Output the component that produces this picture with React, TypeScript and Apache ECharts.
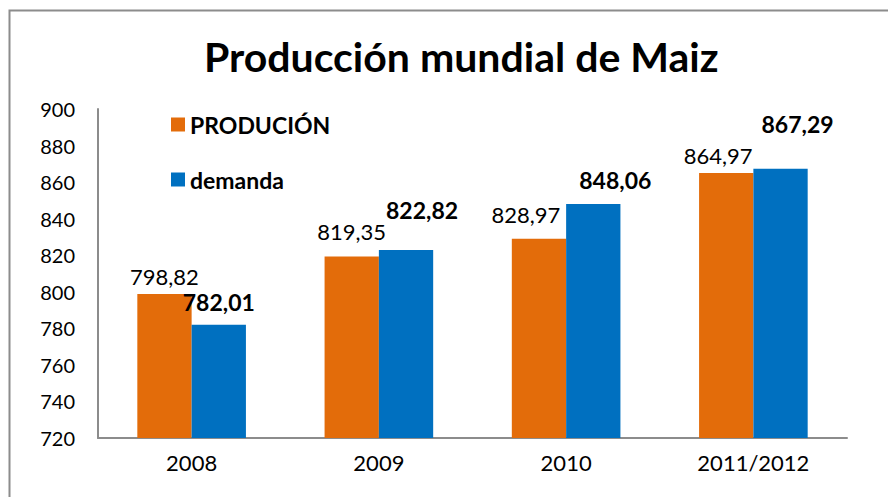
import React, { useEffect, useRef } from "react";
import * as echarts from "echarts";

const categories = ["2008", "2009", "2010", "2011/2012"];
const produccion = [798.82, 819.35, 828.97, 864.97];
const demanda = [782.01, 822.82, 848.06, 867.29];
const seriesNames = ["PRODUCIÓN", "demanda"];
const titleText = "Producción mundial de Maiz";
const yMin = 720;
const yMax = 900;
const yStep = 20;

const FONT = "Lato, 'Open Sans', sans-serif";
const fmt = (v: number) => v.toFixed(2).replace(".", ",");

const orangeOffsets = [[0, -1], [0, -9], [-13, -8], [-8, -2]];
const blueOffsets = [[0, -6], [16, -24], [22, -7], [17, -28]];

export default function App() {
  const ref = useRef<HTMLDivElement>(null);
  useEffect(() => {
    if (!ref.current) return;
    const chart = echarts.init(ref.current, undefined, { renderer: "svg" });
    chart.setOption({
      animation: false,
      backgroundColor: "#ffffff",
      title: {
        text: titleText,
        left: 199,
        top: 31,
        textStyle: { fontFamily: FONT, fontWeight: "bold", fontSize: 41, color: "#000" },
      },
      graphic: [
        {
          type: "rect",
          shape: { x: 9.5, y: 10.5, width: 900, height: 600 },
          style: { fill: "none", stroke: "#8c8c8c", lineWidth: 2 },
          silent: true,
        },
      ],
      legend: {
        orient: "vertical",
        left: 166,
        top: 108,
        itemWidth: 14,
        itemHeight: 14,
        itemGap: 32,
        icon: "rect",
        textStyle: { fontFamily: FONT, fontWeight: "bold", fontSize: 23, color: "#000" },
        data: seriesNames,
      },
      grid: { left: 98, right: 41, top: 109, bottom: 59 },
      xAxis: {
        type: "category",
        data: categories,
        axisLine: { lineStyle: { color: "#8c8c8c", width: 2 } },
        axisTick: { show: false },
        axisLabel: { fontFamily: FONT, fontSize: 22, color: "#000", margin: 13 },
      },
      yAxis: {
        type: "value",
        min: yMin,
        max: yMax,
        interval: yStep,
        splitLine: { show: false },
        axisLine: { show: true, lineStyle: { color: "#8c8c8c", width: 2 } },
        axisTick: { show: false },
        axisLabel: { fontFamily: FONT, fontSize: 20, color: "#000", margin: 23 },
      },
      series: [
        {
          name: seriesNames[0],
          type: "bar",
          barGap: "0%",
          barCategoryGap: "42%",
          itemStyle: { color: "#E36C0A" },
          data: produccion.map((v, i) => ({
            value: v,
            label: {
              show: true,
              position: "top",
              offset: orangeOffsets[i],
              formatter: () => fmt(v),
              fontFamily: FONT,
              fontSize: 22,
              color: "#000",
            },
          })),
        },
        {
          name: seriesNames[1],
          type: "bar",
          itemStyle: { color: "#0070C0" },
          data: demanda.map((v, i) => ({
            value: v,
            label: {
              show: true,
              position: "top",
              offset: blueOffsets[i],
              formatter: () => fmt(v),
              fontFamily: FONT,
              fontWeight: "bold",
              fontSize: 23,
              color: "#000",
            },
          })),
        },
      ],
    });
    return () => chart.dispose();
  }, []);
  return (
    <div
      ref={ref}
      style={{ position: "fixed", left: 0, top: 0, width: 888, height: 497 }}
    />
  );
}
